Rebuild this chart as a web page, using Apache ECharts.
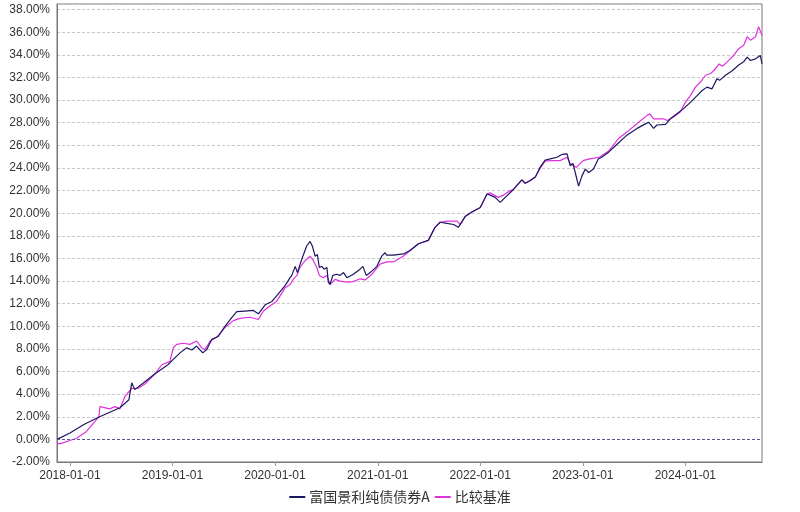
<!DOCTYPE html>
<html>
<head>
<meta charset="utf-8">
<script src="https://cdn.jsdelivr.net/npm/echarts@6/dist/echarts.min.js"></script>
<style>html,body{margin:0;padding:0;background:#fff}#c{width:800px;height:512px}</style>
</head>
<body>
<div id="c"></div>
<script>
const seriesNames = ['富国景利纯债债券A', '比较基准'];
const tickLabels = ['2018-01-01','2019-01-01','2020-01-01','2021-01-01','2022-01-01','2023-01-01','2024-01-01'];
const yTicks = [-2, 38];

const fundDates = ['2017-11-16','2018-01-01','2018-02-23','2018-04-17','2018-06-28','2018-07-30','2018-08-09','2018-08-20','2018-09-25','2018-10-31','2018-12-16',
'2019-01-04','2019-01-28','2019-02-21','2019-03-11','2019-03-28','2019-04-19','2019-05-03','2019-05-21','2019-06-13','2019-07-07','2019-07-31','2019-08-18','2019-09-16','2019-10-16','2019-11-03','2019-11-27','2019-12-21',
'2020-01-07','2020-02-06','2020-02-24','2020-03-01','2020-03-13','2020-03-21','2020-04-05','2020-04-23','2020-05-05','2020-05-13','2020-05-23','2020-05-31','2020-06-07','2020-06-16','2020-06-24','2020-07-04','2020-07-09','2020-07-15','2020-07-25','2020-08-08','2020-08-20','2020-09-01','2020-09-13','2020-10-06','2020-10-30','2020-11-09','2020-11-21','2020-12-05','2020-12-29',
'2021-01-15','2021-01-27','2021-02-02','2021-02-26','2021-04-02','2021-04-26','2021-05-26','2021-06-30','2021-07-24','2021-08-11','2021-09-04','2021-09-28','2021-10-15','2021-11-08','2021-12-02',
'2022-01-01','2022-01-25','2022-02-05','2022-02-23','2022-03-13','2022-03-31','2022-04-29','2022-05-29','2022-06-10','2022-06-28','2022-07-16','2022-08-03','2022-08-20','2022-09-07','2022-10-01','2022-10-19','2022-11-06','2022-11-17','2022-11-27','2022-12-05','2022-12-17','2022-12-29',
'2023-01-10','2023-01-22','2023-02-08','2023-02-25','2023-03-09','2023-04-03','2023-05-03','2023-06-07','2023-07-13','2023-08-12','2023-08-23','2023-09-10','2023-09-22','2023-10-22','2023-11-09','2023-12-02','2023-12-26',
'2024-01-19','2024-02-12','2024-03-01','2024-03-18','2024-04-05','2024-04-23','2024-05-02','2024-05-23','2024-06-16','2024-07-09','2024-07-27','2024-08-08','2024-08-20','2024-09-07','2024-09-24','2024-09-30'];
const fundValues = [0.0,0.56,1.36,2.0,2.8,3.5,5.0,4.4,5.1,5.8,6.6,
7.07,7.65,8.1,7.9,8.25,7.65,7.95,8.84,9.1,10.0,10.76,11.3,11.35,11.4,11.1,11.9,12.2,
12.7,13.6,14.3,14.5,15.3,14.75,15.9,17.1,17.5,17.1,16.2,16.35,15.2,15.3,15.05,15.2,13.9,13.7,14.5,14.6,14.5,14.75,14.3,14.6,15.05,15.3,14.5,14.75,15.3,
16.2,16.5,16.3,16.3,16.4,16.7,17.3,17.6,18.75,19.2,19.1,19.0,18.75,19.7,20.1,
20.5,21.7,21.6,21.4,20.96,21.4,22.1,22.95,22.65,22.9,23.2,24.1,24.7,24.8,24.95,25.2,25.25,24.2,24.4,23.6,22.4,23.3,
23.9,23.6,23.9,24.8,24.95,25.4,26.1,26.9,27.5,27.9,28.05,27.5,27.8,27.85,28.35,28.8,29.25,
29.8,30.4,30.85,31.15,31.0,31.9,31.75,32.2,32.6,33.1,33.4,33.8,33.5,33.65,33.95,33.2];

const benchDates = ['2017-11-16','2017-11-26','2018-01-01','2018-01-25','2018-03-01','2018-03-31','2018-04-14','2018-04-18','2018-05-23','2018-06-10','2018-06-28','2018-07-16','2018-08-09','2018-08-31','2018-09-25','2018-10-31','2018-11-24','2018-12-23',
'2019-01-04','2019-01-16','2019-02-09','2019-03-04','2019-03-28','2019-04-15','2019-04-27','2019-05-15','2019-06-08','2019-07-07','2019-08-06','2019-08-30','2019-10-04','2019-11-03','2019-11-21','2019-12-14',
'2020-01-07','2020-02-06','2020-02-24','2020-03-06','2020-03-19','2020-03-30','2020-04-17','2020-05-05','2020-05-17','2020-05-29','2020-06-07','2020-06-21','2020-07-04','2020-07-15','2020-08-02','2020-08-20','2020-09-13','2020-10-06','2020-10-30','2020-11-17','2020-12-11',
'2021-01-09','2021-02-02','2021-02-26','2021-04-02','2021-04-26','2021-05-26','2021-06-30','2021-07-24','2021-08-11','2021-09-04','2021-10-10','2021-10-22','2021-11-08','2021-12-02',
'2022-01-01','2022-01-25','2022-02-05','2022-03-06','2022-03-25','2022-04-18','2022-04-29','2022-05-29','2022-06-10','2022-06-28','2022-07-16','2022-08-03','2022-08-20','2022-09-07','2022-10-12','2022-11-06','2022-11-17','2022-12-09',
'2023-01-02','2023-01-25','2023-03-01','2023-04-03','2023-05-08','2023-06-13','2023-07-19','2023-08-18','2023-08-27','2023-09-10','2023-10-16','2023-10-28','2023-11-20','2023-12-14',
'2024-01-01','2024-01-19','2024-02-06','2024-02-24','2024-03-13','2024-03-31','2024-04-18','2024-04-30','2024-05-12','2024-05-30','2024-06-21','2024-07-09','2024-07-27','2024-08-08','2024-08-20','2024-09-07','2024-09-18','2024-09-24','2024-09-30'];
const benchValues = [-0.33,-0.4,-0.1,0.1,0.7,1.6,2.0,2.9,2.7,2.9,2.7,3.8,4.5,4.5,4.9,5.8,6.6,6.9,
8.1,8.4,8.5,8.4,8.7,8.1,7.95,8.7,9.05,9.9,10.5,10.7,10.8,10.6,11.35,11.8,
12.2,13.4,13.7,14.15,14.5,15.2,15.8,16.2,15.8,15.2,14.5,14.3,14.5,13.7,14.15,14.0,13.9,13.95,14.2,14.1,14.6,
15.5,15.7,15.7,16.2,16.7,17.3,17.6,18.75,19.2,19.3,19.3,19.0,19.7,20.1,
20.5,21.7,21.8,21.4,21.6,22.0,22.1,22.95,22.65,22.9,23.2,24.0,24.6,24.65,24.65,24.95,24.4,24.05,
24.65,24.8,24.95,25.5,26.6,27.3,28.05,28.65,28.8,28.35,28.35,28.2,28.5,28.95,
29.8,30.4,31.15,31.6,32.2,32.35,32.8,33.2,33.0,33.4,33.95,34.55,34.85,35.6,35.3,35.6,36.5,36.6,35.7];

function parseDate(s) { const p = s.split('-').map(Number); return Date.UTC(p[0], p[1] - 1, p[2]); }
function pad(n) { return n < 10 ? '0' + n : '' + n; }
function fmtDate(t) { const d = new Date(t); return d.getUTCFullYear() + '-' + pad(d.getUTCMonth() + 1) + '-' + pad(d.getUTCDate()); }

const tickValues = tickLabels.map(parseDate);
const fundData = fundDates.map((d, i) => [parseDate(d), fundValues[i]]);
const benchData = benchDates.map((d, i) => [parseDate(d), benchValues[i]]);

const chart = echarts.init(document.getElementById('c'), null, { renderer: 'canvas' });
chart.setOption({
  animation: false,
  backgroundColor: '#fff',
  textStyle: { fontFamily: 'Liberation Sans, Arial, sans-serif' },
  grid: { left: 57, right: 38, top: 4, bottom: 50, show: true, borderColor: '#777', borderWidth: 1, backgroundColor: 'transparent' },
  legend: {
    bottom: 3, left: 'center', itemGap: 5, itemWidth: 16, itemHeight: 2, icon: 'rect',
    textStyle: { fontFamily: 'Noto Sans CJK SC, sans-serif', fontSize: 14, color: '#333', padding: [0, 0, 0, -1] },
    data: seriesNames
  },
  xAxis: {
    type: 'value',
    min: parseDate(fundDates[0]),
    max: parseDate(fundDates[fundDates.length - 1]),
    axisLine: { show: true, onZero: false, lineStyle: { color: '#777' } },
    axisTick: { show: true, length: 4, customValues: tickValues, lineStyle: { color: '#999' } },
    axisLabel: { customValues: tickValues, formatter: v => fmtDate(v), color: '#333', fontSize: 12, margin: 8 },
    splitLine: { show: false }
  },
  yAxis: {
    type: 'value',
    min: yTicks[0], max: 38.5, interval: 2,
    axisLine: { show: true, lineStyle: { color: '#777' } },
    axisTick: { show: false },
    axisLabel: { formatter: v => v.toFixed(2) + '%', color: '#333', fontSize: 12, margin: 7, showMaxLabel: false },
    splitLine: { show: true, lineStyle: { color: '#c8c8c8', type: [3, 2], width: 1 } }
  },
  series: [
    {
      name: seriesNames[0], type: 'line', data: fundData, showSymbol: false, symbol: 'none',
      lineStyle: { color: '#1b1760', width: 1.2 }, itemStyle: { color: '#1b1760' }, z: 3,
      markLine: { silent: true, symbol: 'none', label: { show: false },
        lineStyle: { color: '#55558a', type: [3, 2], width: 1 }, data: [{ yAxis: 0 }] }
    },
    {
      name: seriesNames[1], type: 'line', data: benchData, showSymbol: false, symbol: 'none',
      lineStyle: { color: '#e030e0', width: 1.2 }, itemStyle: { color: '#e030e0' }, z: 2
    }
  ]
});
</script>
</body>
</html>
